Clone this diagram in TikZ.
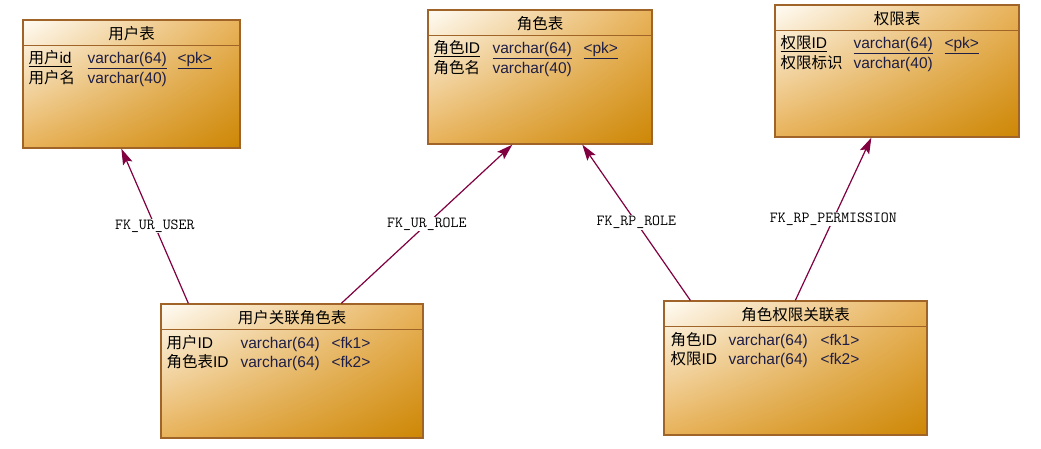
\documentclass[tikz,border=0pt]{standalone}
\usepackage{fontspec}
\setmainfont{Liberation Sans}
\newfontfamily\cjk{Noto Sans CJK SC}
\usepackage{tikz}
\usetikzlibrary{arrows.meta}
\usetikzlibrary{shadings}
\usetikzlibrary{positioning}

\begin{document}
\begin{tikzpicture}[x=1pt,y=-1pt,>={Stealth[length=16pt,width=10pt,inset=3pt]},
	table node/.style={rectangle,draw=boxline,line width=1.3pt,inner sep=0pt,
		upper left=boxlight,lower right=boxdark,upper right=boxmid,lower left=boxmid},
	title node/.style={anchor=base,inner sep=0pt,font=\cjk\fontsize{15.5}{16}\selectfont},
	field node/.style={anchor=base west,inner sep=0pt,font=\fontsize{15.5}{16}\selectfont},
	type node/.style={field node,text=typetext},
	sep line/.style={draw=boxline,line width=1.3pt},
	fk edge/.style={->,draw=fkline,line width=1.2pt},
	fk label/.style={fill=white,inner sep=1pt,text=black,font=\ttfamily\fontsize{15.4}{16}\selectfont}]
	
	\definecolor{boxline}{RGB}{160,100,40}
	\definecolor{boxlight}{RGB}{255,252,245}
	\definecolor{boxdark}{RGB}{205,135,5}
	\definecolor{boxmid}{RGB}{232,178,90}
	\definecolor{typetext}{RGB}{30,30,70}
	\definecolor{fkline}{RGB}{128,0,64}
	
	\useasboundingbox (0,0) rectangle (1041,448);
	
	% tables
	\node[table node, minimum width=217pt, minimum height=128pt] (user) at (131.5,84) {};
	\node[table node, minimum width=224pt, minimum height=134pt] (role) at (540,77) {};
	\node[table node, minimum width=244pt, minimum height=132pt] (perm) at (897,71) {};
	\node[table node, minimum width=262pt, minimum height=134pt] (urole) at (292,371) {};
	\node[table node, minimum width=263pt, minimum height=134pt] (rperm) at (795.5,368) {};
	
	\node[title node] (userT) at ([yshift=-20.5pt]user.north) {用户表};
	\node[title node] (roleT) at ([yshift=-20.5pt]role.north) {角色表};
	\node[title node] (permT) at ([yshift=-20.5pt]perm.north) {权限表};
	\node[title node] (uroleT) at ([yshift=-20.5pt]urole.north) {用户关联角色表};
	\node[title node] (rpermT) at ([yshift=-20.5pt]rperm.north) {角色权限关联表};
	
	\draw[sep line] ([yshift=-26pt]user.north west) -- ([yshift=-26pt]user.north east);
	\draw[sep line] ([yshift=-26pt]role.north west) -- ([yshift=-26pt]role.north east);
	\draw[sep line] ([yshift=-26pt]perm.north west) -- ([yshift=-26pt]perm.north east);
	\draw[sep line] ([yshift=-26pt]urole.north west) -- ([yshift=-26pt]urole.north east);
	\draw[sep line] ([yshift=-26pt]rperm.north west) -- ([yshift=-26pt]rperm.north east);
	
	% fields
	\node[field node] (user1n) at ([xshift=6pt,yshift=-44pt]user.north west) {\underline{{\cjk 用户}id}};
	\node[type node] (user1t) at ([xshift=65pt,yshift=-44pt]user.north west) {\underline{varchar(64)}};
	\node[type node] (user1k) at ([xshift=155pt,yshift=-44pt]user.north west) {\underline{<pk>}};
	\node[field node] (user2n) at ([xshift=6pt,yshift=-64pt]user.north west) {{\cjk 用户名}};
	\node[type node] (user2t) at ([xshift=65pt,yshift=-64pt]user.north west) {varchar(40)};
	
	\node[field node] (role1n) at ([xshift=6pt,yshift=-44pt]role.north west) {\underline{{\cjk 角色}ID}};
	\node[type node] (role1t) at ([xshift=65pt,yshift=-44pt]role.north west) {\underline{varchar(64)}};
	\node[type node] (role1k) at ([xshift=156pt,yshift=-44pt]role.north west) {\underline{<pk>}};
	\node[field node] (role2n) at ([xshift=6pt,yshift=-64pt]role.north west) {{\cjk 角色名}};
	\node[type node] (role2t) at ([xshift=65pt,yshift=-64pt]role.north west) {varchar(40)};
	
	\node[field node] (perm1n) at ([xshift=6pt,yshift=-44pt]perm.north west) {\underline{{\cjk 权限}ID}};
	\node[type node] (perm1t) at ([xshift=79pt,yshift=-44pt]perm.north west) {\underline{varchar(64)}};
	\node[type node] (perm1k) at ([xshift=170pt,yshift=-44pt]perm.north west) {\underline{<pk>}};
	\node[field node] (perm2n) at ([xshift=6pt,yshift=-64pt]perm.north west) {{\cjk 权限标识}};
	\node[type node] (perm2t) at ([xshift=79pt,yshift=-64pt]perm.north west) {varchar(40)};
	
	\node[field node] (urole1n) at ([xshift=6pt,yshift=-45pt]urole.north west) {{\cjk 用户}ID};
	\node[type node] (urole1t) at ([xshift=80pt,yshift=-45pt]urole.north west) {varchar(64)};
	\node[type node] (urole1k) at ([xshift=171pt,yshift=-45pt]urole.north west) {<fk1>};
	\node[field node] (urole2n) at ([xshift=6pt,yshift=-64pt]urole.north west) {{\cjk 角色表}ID};
	\node[type node] (urole2t) at ([xshift=80pt,yshift=-64pt]urole.north west) {varchar(64)};
	\node[type node] (urole2k) at ([xshift=171pt,yshift=-64pt]urole.north west) {<fk2>};
	
	\node[field node] (rperm1n) at ([xshift=7pt,yshift=-45pt]rperm.north west) {{\cjk 角色}ID};
	\node[type node] (rperm1t) at ([xshift=65pt,yshift=-45pt]rperm.north west) {varchar(64)};
	\node[type node] (rperm1k) at ([xshift=157pt,yshift=-45pt]rperm.north west) {<fk1>};
	\node[field node] (rperm2n) at ([xshift=7pt,yshift=-64pt]rperm.north west) {{\cjk 权限}ID};
	\node[type node] (rperm2t) at ([xshift=65pt,yshift=-64pt]rperm.north west) {varchar(64)};
	\node[type node] (rperm2k) at ([xshift=157pt,yshift=-64pt]rperm.north west) {<fk2>};
	
	% references
	\path[every node/.style={fk label}]
	([xshift=28pt]urole.north west) edge[fk edge] node {FK\_UR\_USER} ([xshift=99pt]user.south west)
	([xshift=181pt]urole.north west) edge[fk edge] node {FK\_UR\_ROLE} ([xshift=85pt]role.south west)
	([xshift=27pt]rperm.north west) edge[fk edge] node {FK\_RP\_ROLE} ([xshift=155pt]role.south west)
	([xshift=132pt]rperm.north west) edge[fk edge] node {FK\_RP\_PERMISSION} ([xshift=97pt]perm.south west);
\end{tikzpicture}
\end{document}
